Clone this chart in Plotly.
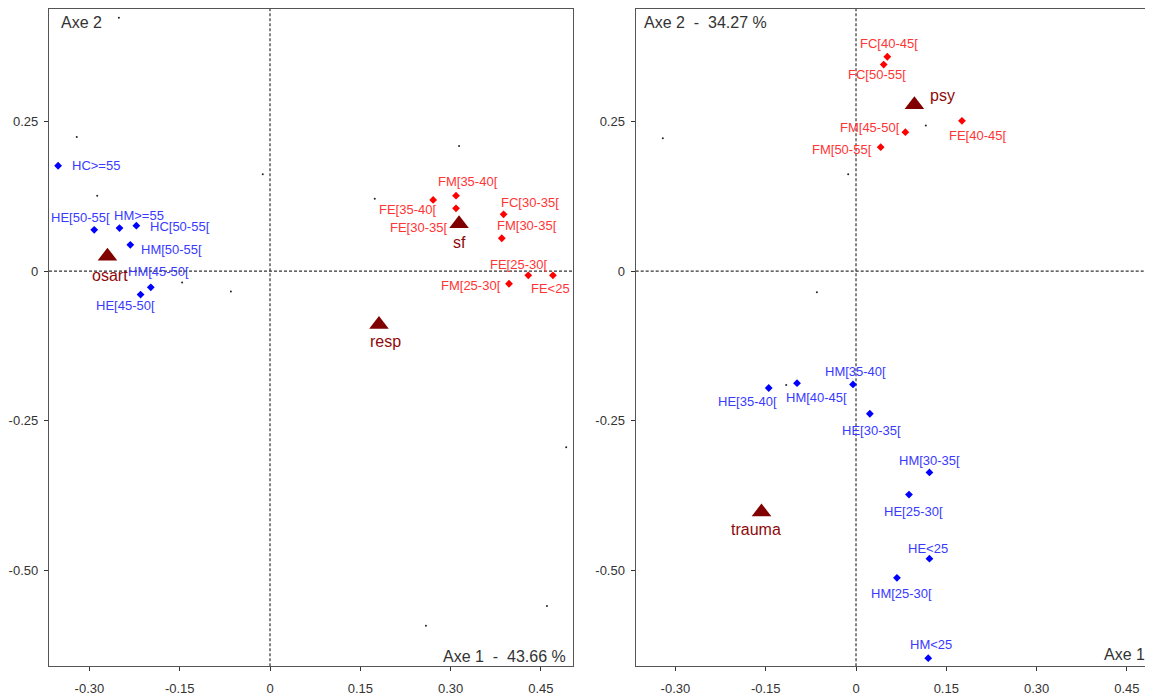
import plotly.graph_objects as go

# ---------------- data ----------------
X_TICKS = [-0.30, -0.15, 0, 0.15, 0.30, 0.45]
X_TICK_TEXT = ["-0.30", "-0.15", "0", "0.15", "0.30", "0.45"]
Y_TICKS = [0.25, 0, -0.25, -0.50]
Y_TICK_TEXT = ["0.25", "0", "-0.25", "-0.50"]

# left map (axes 1 x 2)
L_BLUE_LABELS = ["HC>=55", "HE[50-55[", "HM>=55", "HC[50-55[", "HM[50-55[", "HM[45-50[", "HE[45-50["]
L_BLUE_X = [-0.352, -0.292, -0.250, -0.222, -0.232, -0.198, -0.215]
L_BLUE_Y = [0.176, 0.069, 0.072, 0.076, 0.044, -0.027, -0.039]

L_RED_LABELS = ["FE[35-40[", "FM[35-40[", "FE[30-35[", "FC[30-35[", "FM[30-35[", "FE[25-30[", "FE<25", "FM[25-30["]
L_RED_X = [0.271, 0.309, 0.309, 0.388, 0.385, 0.429, 0.470, 0.397]
L_RED_Y = [0.119, 0.126, 0.105, 0.095, 0.055, -0.007, -0.007, -0.021]

L_SUP_LABELS = ["osart", "sf", "resp"]
L_SUP_X = [-0.270, 0.314, 0.181]
L_SUP_Y = [0.025, 0.079, -0.089]

L_DOT_X = [-0.251, -0.321, -0.287, -0.012, -0.146, -0.065, 0.314, 0.174, 0.492, 0.460, 0.259]
L_DOT_Y = [0.423, 0.224, 0.126, 0.162, -0.019, -0.034, 0.209, 0.121, -0.294, -0.559, -0.592]

# right map
R_RED_LABELS = ["FC[40-45[", "FC[50-55[", "FM[45-50[", "FM[50-55[", "FE[40-45["]
R_RED_X = [0.052, 0.046, 0.082, 0.041, 0.176]
R_RED_Y = [0.358, 0.345, 0.232, 0.207, 0.251]

R_BLUE_LABELS = ["HE[35-40[", "HM[40-45[", "HM[35-40[", "HE[30-35[", "HM[30-35[",
                 "HE[25-30[", "HE<25", "HM[25-30[", "HM<25"]
R_BLUE_X = [-0.145, -0.098, -0.005, 0.023, 0.122, 0.088, 0.122, 0.068, 0.120]
R_BLUE_Y = [-0.195, -0.187, -0.189, -0.238, -0.336, -0.373, -0.480, -0.512, -0.646]

R_SUP_LABELS = ["psy", "trauma"]
R_SUP_X = [0.097, -0.157]
R_SUP_Y = [0.278, -0.402]

R_DOT_X = [-0.321, -0.013, 0.116, -0.116, -0.065]
R_DOT_Y = [0.222, 0.162, 0.243, -0.190, -0.035]

# ---------------- label placement (pixel offsets: dx right, dy up) ----------------
L_OFFSETS = {
    "HC>=55": (38, 0), "HE[50-55[": (-14, 12), "HM>=55": (19, 13), "HC[50-55[": (44, -1),
    "HM[50-55[": (41, -5), "HM[45-50[": (8, 16), "HE[45-50[": (-15, -11), "osart": (3, -19),
    "FE[35-40[": (-26, -10), "FM[35-40[": (12, 14), "FE[30-35[": (-38, -19), "sf": (0, -19),
    "FC[30-35[": (26, 12), "FM[30-35[": (25, 13), "FE[25-30[": (-10, 11), "FE<25": (-2, -13),
    "FM[25-30[": (-38, -2), "resp": (7, -17),
}
R_OFFSETS = {
    "FC[40-45[": (2, 13), "FC[50-55[": (-7, -10), "psy": (28, 9), "FM[45-50[": (-35, 5),
    "FM[50-55[": (-39, -2), "FE[40-45[": (16, -15), "HE[35-40[": (-21, -14),
    "HM[40-45[": (19, -14), "HM[35-40[": (2, 13), "HE[30-35[": (2, -17), "HM[30-35[": (0, 12),
    "HE[25-30[": (5, -17), "trauma": (-6, -18), "HE<25": (-1, 10), "HM[25-30[": (5, -16),
    "HM<25": (3, 14),
}

# ---------------- styles ----------------
FONT = "Arial, 'Liberation Sans', sans-serif"
BLUE_PT, BLUE_TXT = "#0000FF", "#3A3AFF"
RED_PT, RED_TXT = "#FF0000", "#FF3535"
SUP_PT, SUP_TXT = "#800000", "#8E0A0A"
AXIS_COL = "#555555"

# page body adds an 8px margin: the figure is laid out in page pixels minus 8
OFF = 8
W, H = 1153 - OFF, 696 - OFF
LX = [(49 - OFF) / W, (573 - OFF) / W]
RX = [(635.7 - OFF) / W, 1.0]
YD = [1 - (669 - OFF) / H, 1.0]
L_XRANGE = [-0.3671, 0.5033]
R_XRANGE = [-0.3660, 0.4934]
YRANGE = [-0.6594, 0.4377]

fig = go.Figure()


def add_points(xs, ys, color, symbol, size, xa, ya):
    fig.add_trace(go.Scatter(x=xs, y=ys, mode="markers", xaxis=xa, yaxis=ya,
                             marker=dict(color=color, symbol=symbol, size=size, line=dict(width=0)),
                             hoverinfo="skip"))


def esc(s):
    return s.replace("<", "&lt;").replace(">", "&gt;")


annotations = []


def add_labels(labels, xs, ys, color, size, offsets, xref, yref):
    for lab, x, y in zip(labels, xs, ys):
        dx, dy = offsets[lab]
        annotations.append(dict(x=x, y=y, xref=xref, yref=yref, text=esc(lab), showarrow=False,
                                xanchor="center", yanchor="middle", xshift=dx, yshift=dy,
                                font=dict(family=FONT, size=size, color=color)))


# left panel
add_points(L_DOT_X, L_DOT_Y, "#222222", "circle", 2, "x", "y")
add_points(L_BLUE_X, L_BLUE_Y, BLUE_PT, "diamond", 6, "x", "y")
add_points(L_RED_X, L_RED_Y, RED_PT, "diamond", 6, "x", "y")
add_points(L_SUP_X, L_SUP_Y, SUP_PT, "triangle-up", 17, "x", "y")
add_labels(L_BLUE_LABELS, L_BLUE_X, L_BLUE_Y, BLUE_TXT, 13, L_OFFSETS, "x", "y")
add_labels(L_RED_LABELS, L_RED_X, L_RED_Y, RED_TXT, 13, L_OFFSETS, "x", "y")
add_labels(L_SUP_LABELS, L_SUP_X, L_SUP_Y, SUP_TXT, 16, L_OFFSETS, "x", "y")

# right panel
add_points(R_DOT_X, R_DOT_Y, "#222222", "circle", 2, "x2", "y2")
add_points(R_RED_X, R_RED_Y, RED_PT, "diamond", 6, "x2", "y2")
add_points(R_BLUE_X, R_BLUE_Y, BLUE_PT, "diamond", 6, "x2", "y2")
add_points(R_SUP_X, R_SUP_Y, SUP_PT, "triangle-up", 17, "x2", "y2")
add_labels(R_RED_LABELS, R_RED_X, R_RED_Y, RED_TXT, 13, R_OFFSETS, "x2", "y2")
add_labels(R_BLUE_LABELS, R_BLUE_X, R_BLUE_Y, BLUE_TXT, 13, R_OFFSETS, "x2", "y2")
add_labels(R_SUP_LABELS, R_SUP_X, R_SUP_Y, SUP_TXT, 16, R_OFFSETS, "x2", "y2")

# axis titles inside plots
TITLE_FONT = dict(family=FONT, size=16, color="#333333")
annotations += [
    dict(text="Axe 2", xref="x domain", yref="y domain", x=0, y=1, xanchor="left", yanchor="top",
         xshift=10, yshift=-3, showarrow=False, font=TITLE_FONT),
    dict(text="Axe 1  -  43.66 %", xref="x domain", yref="y domain", x=1, y=0, xanchor="right",
         yanchor="bottom", xshift=-5, yshift=-1, showarrow=False, font=TITLE_FONT),
    dict(text="Axe 2  -  34.27 %", xref="x2 domain", yref="y2 domain", x=0, y=1, xanchor="left",
         yanchor="top", xshift=6, yshift=-3, showarrow=False, font=TITLE_FONT),
    dict(text="Axe 1", xref="x2 domain", yref="y2 domain", x=1, y=0, xanchor="right",
         yanchor="bottom", xshift=-6, yshift=1, showarrow=False, font=TITLE_FONT),
]

DASH = dict(color="#333333", width=1.2, dash="3px,2px")
shapes = []
for xr, yr in (("x", "y"), ("x2", "y2")):
    shapes.append(dict(type="line", xref=xr, yref=yr + " domain", x0=0, x1=0, y0=0, y1=1, line=DASH, layer="below"))
    shapes.append(dict(type="line", xref=xr + " domain", yref=yr, x0=0, x1=1, y0=0, y1=0, line=DASH, layer="below"))

TICKFONT = dict(family=FONT, size=13, color="#333333")


def xaxis(domain, rng, anchor, mirror):
    return dict(domain=domain, range=rng, anchor=anchor, showgrid=False, zeroline=False,
                showline=True, linecolor=AXIS_COL, linewidth=1.3, mirror=mirror,
                ticks="outside", ticklen=4, tickwidth=1.2, tickcolor="#333333",
                tickvals=X_TICKS, ticktext=X_TICK_TEXT, tickfont=TICKFONT, ticklabelstandoff=6,
                fixedrange=True)


def yaxis(domain, rng, anchor, mirror):
    return dict(domain=domain, range=rng, anchor=anchor, showgrid=False, zeroline=False,
                showline=True, linecolor=AXIS_COL, linewidth=1.3, mirror=mirror,
                ticks="outside", ticklen=4, tickwidth=1.2, tickcolor="#333333",
                tickvals=Y_TICKS, ticktext=Y_TICK_TEXT, tickfont=TICKFONT, ticklabelstandoff=3,
                fixedrange=True)


def inner(base, anchor, vals):
    return dict(overlaying=base, matches=base, anchor=anchor, showgrid=False, zeroline=False,
                showline=False, ticks="inside", ticklen=4, tickwidth=1.2, tickcolor="#333333",
                tickvals=vals, showticklabels=False, fixedrange=True)


fig.update_layout(
    width=W, height=H,
    margin=dict(l=0, r=0, t=0, b=0, pad=0),
    paper_bgcolor="white", plot_bgcolor="white",
    showlegend=False,
    xaxis=xaxis(LX, L_XRANGE, "y", True),
    yaxis=yaxis(YD, YRANGE, "x", True),
    xaxis2=xaxis(RX, R_XRANGE, "y2", True),
    yaxis2=yaxis(YD, YRANGE, "x2", False),
    xaxis3=dict(inner("x", "y", X_TICKS), side="bottom"),
    yaxis3=dict(inner("y", "x", Y_TICKS), side="left"),
    xaxis4=dict(inner("x2", "y2", X_TICKS), side="bottom"),
    yaxis4=dict(inner("y2", "x2", Y_TICKS), side="left"),
    annotations=annotations,
    shapes=shapes,
)

fig.write_html("out.html")
